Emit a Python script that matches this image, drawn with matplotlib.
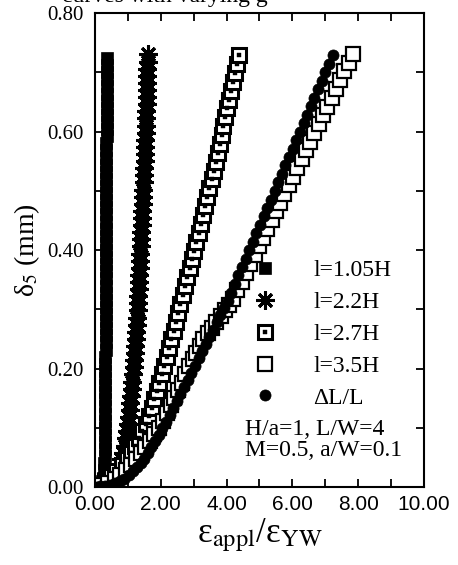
import matplotlib
matplotlib.use("Agg")
import matplotlib.pyplot as plt
from matplotlib.ticker import MultipleLocator, FormatStrFormatter
from matplotlib.legend_handler import HandlerTuple

plt.rcParams['font.family'] = ['Liberation Serif', 'DejaVu Serif']
plt.rcParams['mathtext.fontset'] = 'stix'

# l = 1.05H (filled squares)
y_105 = [0.000, 0.002, 0.005, 0.010, 0.016, 0.028, 0.040, 0.052, 0.064, 0.076,
         0.088, 0.100, 0.112, 0.124, 0.136, 0.148, 0.160, 0.172, 0.184, 0.196,
         0.208, 0.220, 0.232, 0.244, 0.256, 0.268, 0.280, 0.292, 0.304, 0.316,
         0.328, 0.340, 0.352, 0.364, 0.376, 0.388, 0.400, 0.412, 0.424, 0.436,
         0.448, 0.460, 0.472, 0.484, 0.496, 0.508, 0.520, 0.532, 0.544, 0.556,
         0.568, 0.580, 0.592, 0.604, 0.616, 0.628, 0.640, 0.652, 0.664, 0.676,
         0.688, 0.700, 0.712, 0.724]
x_105 = [0.00, 0.08, 0.15, 0.21, 0.25, 0.28, 0.29, 0.30, 0.30, 0.30,
         0.31, 0.31, 0.31, 0.31, 0.31, 0.32, 0.32, 0.32, 0.32, 0.32,
         0.32, 0.32, 0.33, 0.33, 0.33, 0.33, 0.33, 0.33, 0.33, 0.33,
         0.33, 0.34, 0.34, 0.34, 0.34, 0.34, 0.34, 0.34, 0.34, 0.34,
         0.35, 0.35, 0.35, 0.35, 0.35, 0.35, 0.35, 0.35, 0.35, 0.35,
         0.35, 0.35, 0.36, 0.36, 0.36, 0.36, 0.36, 0.36, 0.36, 0.36,
         0.36, 0.36, 0.36, 0.36]

# l = 2.2H (asterisks)
y_22 = [0.000, 0.003, 0.007, 0.013, 0.020, 0.028, 0.037, 0.047, 0.058, 0.070,
        0.082, 0.094, 0.106, 0.118, 0.130, 0.142, 0.154, 0.166, 0.178, 0.190,
        0.202, 0.214, 0.226, 0.238, 0.250, 0.262, 0.274, 0.286, 0.298, 0.310,
        0.322, 0.334, 0.346, 0.358, 0.370, 0.382, 0.394, 0.406, 0.418, 0.430,
        0.442, 0.454, 0.466, 0.478, 0.490, 0.502, 0.514, 0.526, 0.538, 0.550,
        0.562, 0.574, 0.586, 0.598, 0.610, 0.622, 0.634, 0.646, 0.658, 0.670,
        0.682, 0.694, 0.706, 0.718, 0.730]
x_22 = [0.00, 0.20, 0.35, 0.50, 0.60, 0.68, 0.75, 0.80, 0.86, 0.91,
        0.95, 0.98, 1.01, 1.04, 1.06, 1.08, 1.10, 1.12, 1.14, 1.16,
        1.18, 1.19, 1.21, 1.22, 1.24, 1.25, 1.27, 1.28, 1.30, 1.31,
        1.32, 1.33, 1.34, 1.35, 1.36, 1.37, 1.38, 1.39, 1.40, 1.41,
        1.42, 1.43, 1.44, 1.45, 1.46, 1.47, 1.48, 1.49, 1.50, 1.51,
        1.52, 1.52, 1.53, 1.54, 1.55, 1.56, 1.56, 1.57, 1.58, 1.58,
        1.59, 1.60, 1.60, 1.61, 1.62]

# l = 2.7H (framed squares)
x_27 = [0.00, 0.15, 0.30, 0.48, 0.65, 0.82, 0.98, 1.10, 1.22, 1.33,
        1.44, 1.55, 1.65, 1.73, 1.81, 1.89, 1.96, 2.03, 2.10, 2.18,
        2.25, 2.32, 2.39, 2.46, 2.53, 2.60, 2.67, 2.74, 2.81, 2.88,
        2.95, 3.01, 3.08, 3.15, 3.21, 3.28, 3.35, 3.42, 3.48, 3.55,
        3.61, 3.67, 3.73, 3.79, 3.85, 3.90, 3.96, 4.02, 4.08, 4.14,
        4.19, 4.25, 4.31, 4.37]
y_27 = [0.000, 0.004, 0.010, 0.018, 0.027, 0.037, 0.047, 0.058, 0.070, 0.082,
        0.094, 0.107, 0.120, 0.134, 0.148, 0.162, 0.176, 0.190, 0.204, 0.219,
        0.234, 0.249, 0.264, 0.279, 0.294, 0.309, 0.324, 0.339, 0.354, 0.369,
        0.384, 0.399, 0.414, 0.429, 0.444, 0.459, 0.474, 0.489, 0.504, 0.519,
        0.534, 0.549, 0.564, 0.579, 0.594, 0.609, 0.624, 0.639, 0.654, 0.669,
        0.684, 0.699, 0.714, 0.729]

# l = 3.5H (open squares)
x_35 = [0.00, 0.20, 0.40, 0.60, 0.78, 0.95, 1.10, 1.25, 1.39, 1.53,
        1.67, 1.81, 1.95, 2.08, 2.20, 2.31, 2.42, 2.53, 2.64, 2.75,
        2.86, 2.97, 3.08, 3.19, 3.30, 3.43, 3.56, 3.69, 3.82, 3.95,
        4.08, 4.20, 4.33, 4.46, 4.59, 4.72, 4.85, 4.98, 5.11, 5.24,
        5.37, 5.50, 5.63, 5.76, 5.89, 6.02, 6.15, 6.28, 6.41, 6.54,
        6.67, 6.80, 6.93, 7.06, 7.19, 7.32, 7.45, 7.58, 7.71, 7.84]
y_35 = [0.000, 0.003, 0.007, 0.013, 0.020, 0.029, 0.037, 0.047, 0.057, 0.067,
        0.078, 0.089, 0.100, 0.112, 0.125, 0.138, 0.150, 0.163, 0.176, 0.190,
        0.204, 0.216, 0.227, 0.238, 0.250, 0.260, 0.269, 0.279, 0.289, 0.298,
        0.308, 0.317, 0.332, 0.346, 0.361, 0.376, 0.391, 0.406, 0.420, 0.435,
        0.450, 0.465, 0.480, 0.494, 0.509, 0.524, 0.539, 0.554, 0.568, 0.583,
        0.598, 0.613, 0.628, 0.642, 0.657, 0.672, 0.687, 0.702, 0.716, 0.731]

# dL/L (filled circles)
x_dl = [0.00, 0.15, 0.30, 0.45, 0.60, 0.75, 0.90, 1.03, 1.15, 1.27,
        1.39, 1.50, 1.61, 1.72, 1.83, 1.94, 2.05, 2.16, 2.27, 2.38,
        2.49, 2.60, 2.71, 2.82, 2.93, 3.04, 3.15, 3.26, 3.37, 3.48,
        3.59, 3.70, 3.81, 3.92, 4.03, 4.14, 4.25, 4.36, 4.47, 4.58,
        4.69, 4.80, 4.91, 5.02, 5.13, 5.24, 5.35, 5.46, 5.57, 5.68,
        5.79, 5.90, 6.01, 6.12, 6.23, 6.34, 6.45, 6.56, 6.67, 6.78,
        6.89, 7.00, 7.11, 7.22]
y_dl = [0.000, 0.001, 0.002, 0.004, 0.007, 0.010, 0.014, 0.020, 0.027, 0.034,
        0.041, 0.048, 0.057, 0.067, 0.077, 0.088, 0.099, 0.110, 0.121, 0.133,
        0.145, 0.157, 0.169, 0.181, 0.193, 0.205, 0.217, 0.229, 0.241, 0.253,
        0.265, 0.278, 0.290, 0.302, 0.314, 0.328, 0.342, 0.357, 0.371, 0.385,
        0.400, 0.414, 0.428, 0.443, 0.457, 0.471, 0.485, 0.500, 0.514, 0.528,
        0.543, 0.557, 0.571, 0.585, 0.600, 0.614, 0.628, 0.643, 0.657, 0.671,
        0.686, 0.700, 0.714, 0.729]

labels = ['l=1.05H', 'l=2.2H', 'l=2.7H', 'l=3.5H', '\u0394L/L']
notes = ['H/a=1, L/W=4', 'M=0.5, a/W=0.1']

fig = plt.figure(figsize=(4.58, 5.65), dpi=100)
ax = fig.add_axes([0.207, 0.138, 0.719, 0.839])

h1, = ax.plot(x_105, y_105, ls='none', marker='s', ms=8.5, mfc='black',
              mec='black', mew=0.5)
h2, = ax.plot(x_22, y_22, ls='none', marker=(8, 2, 0), ms=13, mec='black',
              mew=2.2)
h3a, = ax.plot(x_27, y_27, ls='none', marker='s', ms=9.5, mfc='white',
               mec='black', mew=2.2)
h3b, = ax.plot(x_27, y_27, ls='none', marker='s', ms=2.8, mfc='black',
               mec='black', mew=0.3)
h4, = ax.plot(x_35, y_35, ls='none', marker='s', ms=10.5, mfc='white',
              mec='black', mew=1.6)
h5, = ax.plot(x_dl, y_dl, ls='none', marker='o', ms=8, mfc='black',
              mec='black', mew=0.5)

ax.set_xlim(0, 10)
ax.set_ylim(0, 0.8)
ax.xaxis.set_major_locator(MultipleLocator(2))
ax.xaxis.set_minor_locator(MultipleLocator(1))
ax.yaxis.set_major_locator(MultipleLocator(0.2))
ax.yaxis.set_minor_locator(MultipleLocator(0.1))
ax.xaxis.set_major_formatter(FormatStrFormatter('%.2f'))
ax.yaxis.set_major_formatter(FormatStrFormatter('%.2f'))
ax.tick_params(which='both', direction='in', top=True, right=True,
               length=6, width=1.3)
ax.tick_params(axis='x', pad=6, labelsize=15,
               labelfontfamily='Liberation Sans')
ax.tick_params(axis='y', pad=8, labelsize=15)
for sp in ax.spines.values():
    sp.set_linewidth(1.5)

ax.set_xlabel('\u03b5$_{\\mathrm{appl}}$/\u03b5$_{\\mathrm{YW}}$',
              fontsize=25, labelpad=2)
ax.set_ylabel('\u03b4$_5$ (mm)', fontsize=20, labelpad=4)

ax.legend([h1, h2, (h3a, h3b), h4, h5], labels,
          handler_map={tuple: HandlerTuple(ndivide=1)},
          loc='upper left', bbox_to_anchor=(0.445, 0.48), frameon=False,
          fontsize=17, handlelength=2.0, handletextpad=1.05,
          labelspacing=0.44, borderpad=0, borderaxespad=0)
ax.text(0.456, 0.122, notes[0], transform=ax.transAxes, fontsize=17,
        va='center', ha='left')
ax.text(0.456, 0.078, notes[1], transform=ax.transAxes, fontsize=17,
        va='center', ha='left')

fig.text(62 / 458, 0.9965, 'curves with varying g', fontsize=17,
         va='baseline', ha='left')

fig.savefig('out.png', dpi=100)
